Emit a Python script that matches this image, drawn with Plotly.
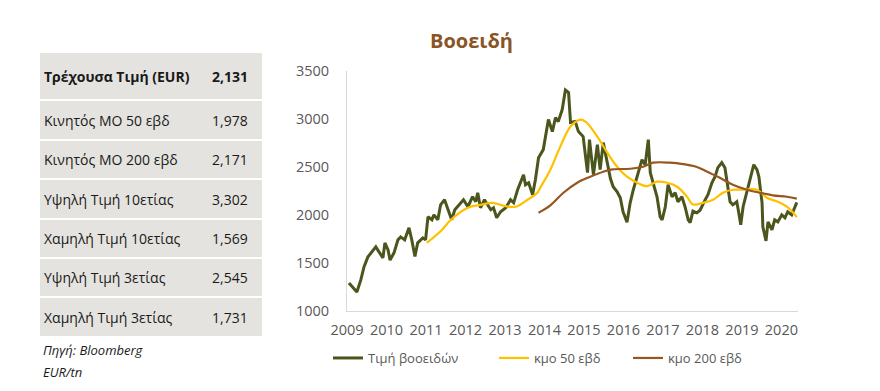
import plotly.graph_objects as go

# ---------------- data ----------------
table_labels = ["Τρέχουσα Τιμή (EUR)", "Κινητός ΜΟ 50 εβδ", "Κινητός ΜΟ 200 εβδ",
                "Υψηλή Τιμή 10ετίας", "Χαμηλή Τιμή 10ετίας", "Υψηλή Τιμή 3ετίας",
                "Χαμηλή Τιμή 3ετίας"]
table_values = ["2,131", "1,978", "2,171", "3,302", "1,569", "2,545", "1,731"]

price_year = [2009.05, 2009.15, 2009.25, 2009.35, 2009.43, 2009.53, 2009.66, 2009.73, 2009.81, 2009.91,
              2009.96, 2010.04, 2010.09, 2010.19, 2010.29, 2010.36, 2010.46, 2010.57, 2010.64, 2010.72,
              2010.79, 2010.92, 2010.99,
              2011.05, 2011.15, 2011.20, 2011.30, 2011.37, 2011.47, 2011.55, 2011.65, 2011.73, 2011.83, 2011.95,
              2012.06, 2012.18, 2012.26, 2012.31, 2012.38, 2012.48, 2012.56, 2012.64, 2012.71, 2012.79, 2012.89,
              2013.02, 2013.14, 2013.22, 2013.32, 2013.47, 2013.52, 2013.60, 2013.70, 2013.77, 2013.85, 2013.97,
              2014.10, 2014.20, 2014.28, 2014.35, 2014.45, 2014.53, 2014.61, 2014.66, 2014.78, 2014.86, 2014.98,
              2015.09, 2015.14, 2015.24, 2015.34, 2015.41, 2015.49, 2015.59, 2015.67, 2015.74, 2015.84, 2015.92, 2015.99,
              2016.09, 2016.17, 2016.25, 2016.35, 2016.42, 2016.47, 2016.55, 2016.63, 2016.68, 2016.75, 2016.85, 2016.93, 2016.98,
              2017.06, 2017.13, 2017.23, 2017.31, 2017.38, 2017.48, 2017.56, 2017.64, 2017.69, 2017.76, 2017.86, 2017.94,
              2018.07, 2018.14, 2018.24, 2018.32, 2018.39, 2018.49, 2018.57, 2018.62, 2018.70, 2018.77, 2018.87, 2018.92, 2018.97,
              2019.03, 2019.13, 2019.20, 2019.30, 2019.38, 2019.43, 2019.51, 2019.53, 2019.61, 2019.66, 2019.76, 2019.83, 2019.91,
              2020.01, 2020.09, 2020.16, 2020.26, 2020.34, 2020.39]
price_val = [1292, 1250, 1198, 1324, 1460, 1564, 1637, 1668, 1616, 1553,
             1710, 1637, 1530, 1606, 1741, 1772, 1741, 1867, 1741, 1569,
             1710, 1762, 1741,
             1981, 1950, 2002, 1950, 2106, 2159, 2075, 1950, 2055, 2106, 2159,
             2086, 2190, 2138, 2232, 2075, 2159, 2106, 2055, 2075, 1971, 2034,
             2075, 2159, 2127, 2263, 2420, 2315, 2336, 2211, 2368, 2597, 2681,
             2994, 2869, 3015, 2973, 3098, 3302, 3276, 2963, 2973, 2869, 2817,
             2441, 2785, 2420, 2733, 2472, 2754, 2560, 2380, 2294, 2242, 2180, 2034,
             1925, 2127, 2263, 2399, 2503, 2576, 2524, 2785, 2441, 2336, 2190, 1981, 1950,
             2086, 2315, 2190, 2232, 2138, 2190, 2086, 1950, 1920, 2040, 2023, 2050,
             2159, 2211, 2336, 2399, 2493, 2545, 2493, 2336, 2138, 2106, 2138, 2023, 1898,
             2086, 2242, 2368, 2524, 2472, 2399, 2127, 1877, 1731, 1929, 1846, 1950, 1929,
             2002, 1971, 2034, 2002, 2086, 2131]

ma50_year = [2011.02, 2011.37, 2011.63, 2012.06, 2012.38, 2012.69, 2012.96, 2013.27, 2013.57, 2013.82,
             2013.90, 2014.15, 2014.40, 2014.66, 2014.91, 2015.04, 2015.34, 2015.59, 2015.84, 2016.09,
             2016.35, 2016.60, 2016.85, 2017.11, 2017.36, 2017.61, 2017.76, 2018.02, 2018.27, 2018.52,
             2018.77, 2019.03, 2019.38, 2019.63, 2019.91, 2020.14, 2020.39]
ma50_val = [1710, 1830, 1950, 2075, 2106, 2127, 2097, 2086, 2159, 2232,
            2290, 2472, 2712, 2921, 2994, 2973, 2817, 2650, 2503, 2399,
            2336, 2300, 2347, 2336, 2294, 2190, 2110, 2127, 2159, 2232,
            2263, 2263, 2263, 2180, 2138, 2086, 1978]

ma200_year = [2013.85, 2014.15, 2014.48, 2014.83, 2015.16, 2015.49, 2015.72, 2016.17, 2016.50,
              2016.75, 2017.18, 2017.51, 2017.86, 2018.12, 2018.44, 2018.77, 2019.13, 2019.45,
              2019.78, 2020.14, 2020.39]
ma200_val = [2023, 2100, 2232, 2336, 2399, 2451, 2475, 2482, 2503,
             2545, 2545, 2530, 2500, 2451, 2389, 2315, 2263, 2232,
             2205, 2190, 2171]

year_ticks = list(range(2009, 2021))
year_labels = [str(y) for y in year_ticks]

series_names = ["Τιμή βοοειδών", "κμο 50 εβδ", "κμο 200 εβδ"]

# ---------------- geometry helpers (reference pixel coords) ----------------
W, H = 880, 391
L, R, T, B = 347, 798, 71, 311


def px(x):
    return (x - L) / (R - L)


def py(y):
    return (B - y) / (B - T)


FONT = "Open Sans, Noto Sans, DejaVu Sans, sans-serif"

fig = go.Figure()
fig.add_trace(go.Scatter(x=price_year, y=price_val, mode="lines", name=series_names[0],
                         line=dict(color="#4B561C", width=3), legendwidth=121))
fig.add_trace(go.Scatter(x=ma50_year, y=ma50_val, mode="lines", name=series_names[1],
                         line=dict(color="#FFC000", width=2.2, shape="spline"), legendwidth=89))
fig.add_trace(go.Scatter(x=ma200_year, y=ma200_val, mode="lines", name=series_names[2],
                         line=dict(color="#97561F", width=2.2, shape="spline"), legendwidth=80))

# ---------------- table ----------------
row_bounds = [(53, 99), (101, 139), (141, 178), (180, 218), (220, 257), (259, 296), (298, 336)]
shapes = []
annotations = []
for i, (lab, val) in enumerate(zip(table_labels, table_values)):
    top, bot = row_bounds[i]
    shapes.append(dict(type="rect", xref="paper", yref="paper",
                       x0=px(40), x1=px(262), y0=py(bot), y1=py(top),
                       fillcolor="#E4E3DF", line=dict(width=0), layer="below"))
    cy = (top + bot) / 2
    t_lab = f"<b>{lab}</b>" if i == 0 else lab
    t_val = f"<b>{val}</b>" if i == 0 else val
    annotations.append(dict(text=t_lab, xref="paper", yref="paper", x=px(42), y=py(cy),
                            xanchor="left", yanchor="middle", showarrow=False,
                            font=dict(family=FONT, size=14, color="#1A1A1A")))
    annotations.append(dict(text=t_val, xref="paper", yref="paper", x=px(210), y=py(cy),
                            xanchor="left", yanchor="middle", showarrow=False,
                            font=dict(family=FONT, size=14, color="#1A1A1A")))

annotations.append(dict(text="<i>Πηγή: Bloomberg</i>", xref="paper", yref="paper",
                        x=px(41), y=py(350), xanchor="left", yanchor="middle", showarrow=False,
                        font=dict(family=FONT, size=13, color="#1A1A1A")))
annotations.append(dict(text="<i>EUR/tn</i>", xref="paper", yref="paper",
                        x=px(41), y=py(372), xanchor="left", yanchor="middle", showarrow=False,
                        font=dict(family=FONT, size=13, color="#1A1A1A")))
annotations.append(dict(text="<b>Βοοειδή</b>", xref="paper", yref="paper",
                        x=px(471), y=py(40), xanchor="center", yanchor="middle", showarrow=False,
                        font=dict(family=FONT, size=20, color="#8A5524")))

fig.update_layout(
    width=W, height=H,
    margin=dict(l=L, r=W - R, t=T, b=H - B, pad=0),
    paper_bgcolor="white", plot_bgcolor="white",
    shapes=shapes, annotations=annotations,
    showlegend=True,
    legend=dict(orientation="h", x=px(328), xanchor="left", y=py(358), yanchor="middle",
                font=dict(family=FONT, size=13, color="#595959"), bgcolor="rgba(0,0,0,0)"),
    xaxis=dict(range=[2009, 2020.42], tickvals=year_ticks, ticktext=year_labels,
               showgrid=False, zeroline=False, showline=True, linecolor="#D9D9D9", linewidth=1,
               ticks="", ticklabelstandoff=6,
               tickfont=dict(family=FONT, size=14.5, color="#595959")),
    yaxis=dict(range=[1000, 3500], dtick=500, showgrid=False, zeroline=False,
               showline=True, linecolor="#D9D9D9", linewidth=1, ticks="",
               ticklabelstandoff=14,
               tickfont=dict(family=FONT, size=14.5, color="#595959")),
)

fig.write_html("out.html", config={"displayModeBar": False},
               post_script="document.body.style.margin='0px';")
